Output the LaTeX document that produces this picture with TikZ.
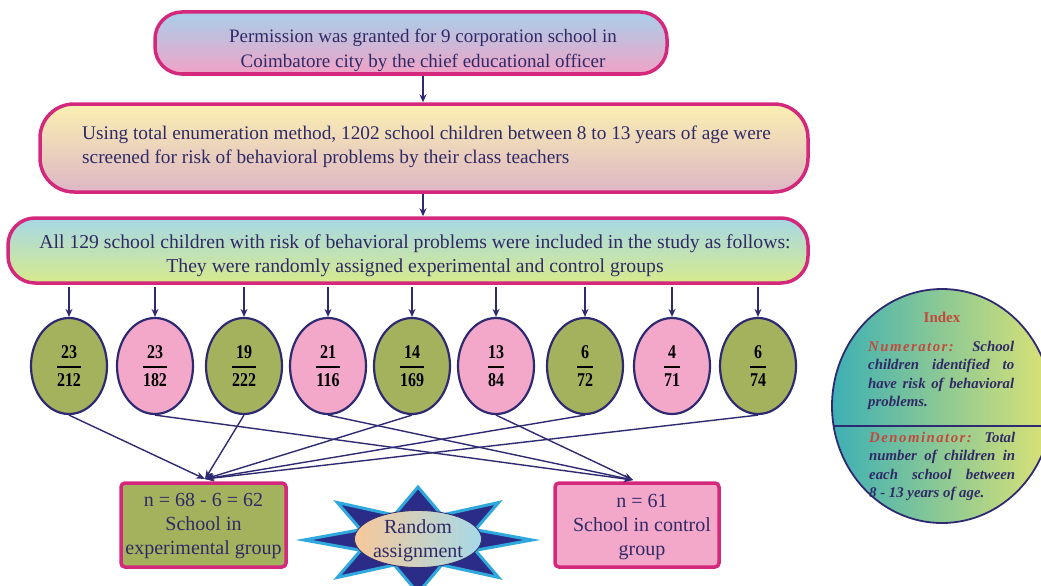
\documentclass[tikz,border=0pt]{standalone}
\usepackage{fontspec}
\setmainfont{Liberation Serif}
\usepackage{amsmath}
\usetikzlibrary{arrows.meta,shapes.geometric}
\definecolor{navy}{HTML}{2E2A72}
\definecolor{mag}{HTML}{D4287C}
\definecolor{olive}{HTML}{A4B25E}
\definecolor{pinkf}{HTML}{F3A7C9}
\definecolor{txt}{HTML}{2F2A66}
\definecolor{redt}{HTML}{C24A3C}
\definecolor{starblue}{HTML}{2B2C88}
\definecolor{starcyan}{HTML}{2FA9DD}
\definecolor{baT}{HTML}{A8CFEA}
\definecolor{baB}{HTML}{F0A2C6}
\definecolor{bbT}{HTML}{FBF0B2}
\definecolor{bbB}{HTML}{DDB6C6}
\definecolor{bcT}{HTML}{A6D8E6}
\definecolor{bcB}{HTML}{D8EA8C}
\definecolor{raL}{HTML}{F7C89A}
\definecolor{raR}{HTML}{A6D9E8}
\definecolor{ixL}{HTML}{3DB0B4}
\definecolor{ixR}{HTML}{DDE274}
\newcommand\fr[2]{\raisebox{-3pt}{$\genfrac{}{}{1.5pt}{0}{\textbf{\addfontfeature{FakeStretch=0.82}#1}}{\textbf{\addfontfeature{FakeStretch=0.82}#2}}$}}
\tikzset{
  flowbox/.style={draw=mag, line width=3.5pt, minimum width=#1, inner sep=0pt},
  arr/.style={draw=navy, line width=1.5pt, -{Stealth[length=8pt,width=7pt]}},
  link/.style={draw=navy, line width=1.4pt, -{Stealth[length=9pt,width=7pt]}},
  ell/.style={ellipse, draw=navy, line width=2.2pt, minimum width=76pt, minimum height=96pt, inner sep=0pt, text=black, font=\fontsize{19.5}{22}\selectfont},
  grpbox/.style={draw=mag, line width=3.5pt, rounded corners=4pt, minimum width=165pt, minimum height=84pt},
  bigtxt/.style={text=txt, inner sep=0pt},
  grptxt/.style={text=txt, font=\fontsize{20}{24}\selectfont, align=center, inner sep=0pt},
  idxtxt/.style={text=txt, font=\fontsize{14.8}{18.5}\selectfont\bfseries\itshape, text width=146pt, align=justify, inner sep=0pt},
}
\begin{document}
\begin{tikzpicture}[x=1pt,y=-1pt]
\useasboundingbox (0,0) rectangle (1041,586);
\clip (0,0) rectangle (1041,586);

% top boxes
\node[flowbox=512pt, minimum height=62pt, rounded corners=27pt, top color=baT, bottom color=baB] (b1) at (411,43) {};
\node[bigtxt, align=center, font=\fontsize{19}{25}\selectfont] (t1) at (423,50) {Permission was granted for 9 corporation school in\\Coimbatore city by the chief educational officer};

\node[flowbox=768pt, minimum height=88pt, rounded corners=34pt, top color=bbT, bottom color=bbB] (b2) at (424,148) {};
\node[bigtxt, align=left, anchor=west, font=\fontsize{19.3}{24}\selectfont] (t2) at (82,147) {Using total enumeration method, 1202 school children between 8 to 13 years of age were\\screened for risk of behavioral problems by their class teachers};

\node[flowbox=800pt, minimum height=65pt, rounded corners=27pt, top color=bcT, bottom color=bcB] (b3) at (408,250.5) {};
\node[bigtxt, align=center, font=\fontsize{19.7}{24}\selectfont] (t3) at (415,256) {All 129 school children with risk of behavioral problems were included in the study as follows:\\They were randomly assigned experimental and control groups};

\draw[arr] (b1.south -| t1) -- (b2.north -| t1);
\draw[arr] (b2.south -| t1) -- (b3.north -| t1);

% school ellipses
\node[ell, fill=olive] (e1) at (69,366) {\fr{23}{212}};
\node[ell, fill=pinkf] (e2) at (155,366) {\fr{23}{182}};
\node[ell, fill=olive] (e3) at (244,366) {\fr{19}{222}};
\node[ell, fill=pinkf] (e4) at (328,366) {\fr{21}{116}};
\node[ell, fill=olive] (e5) at (412,366) {\fr{14}{169}};
\node[ell, fill=pinkf] (e6) at (496,366) {\fr{13}{84}};
\node[ell, fill=olive] (e7) at (585,366) {\fr{6}{72}};
\node[ell, fill=pinkf] (e8) at (672,366) {\fr{4}{71}};
\node[ell, fill=olive] (e9) at (758,366) {\fr{6}{74}};
\foreach \i in {1,...,9} {
  \draw[arr] ([yshift=-2pt]e\i.north |- b3.south) -- (e\i.north);
}

% group boxes
\node[grpbox, fill=olive] (gx) at (203.5,525) {};
\node[grptxt] (gxt) at (203.5,526) {n = 68 - 6 = 62\\School in\\experimental group};
\node[grpbox, fill=pinkf, minimum width=164pt] (gc) at (637,525) {};
\node[grptxt] (gct) at (642,527) {n = 61\\School in control\\group};
\coordinate (ex) at (205,479);
\coordinate (cx) at (633,480);
\foreach \i in {1,3,5,7,9} { \draw[link] (e\i.south) -- (ex); }
\foreach \i in {2,4,6} { \draw[link] (e\i.south) -- (cx); }

% star
\path[fill=starblue, draw=starcyan, line width=3pt, line join=miter]
  plot[samples at={0,1,...,15}] ({418+(mod(\x,2)==0 ? 114 : 62)*cos(\x*22.5)}, {540+(mod(\x,2)==0 ? 53 : 27)*sin(\x*22.5)}) -- cycle;
\node[ellipse, draw=navy, line width=0.8pt, minimum width=127pt, minimum height=57pt, inner sep=0pt, left color=raL, right color=raR] (ra) at (418,539) {};
\node[grptxt] (rat) at (418,541) {Random\\assignment};

% index ellipse
\path[left color=ixL, right color=ixR, draw=navy, line width=1.8pt] (942,406) ellipse (110 and 117);
\begin{scope}
\clip (942,406) ellipse (110 and 117);
\draw[navy, line width=1.8pt] (820,426) -- (1060,426);
\end{scope}
\node[text=redt, font=\fontsize{15}{18}\selectfont\bfseries, inner sep=0pt] (ih) at (942,317) {Index};
\node[idxtxt, anchor=north west] (in) at (868,341) {\textcolor{redt}{\addfontfeature{LetterSpace=10}Numerator:} School\linebreak children identified to\linebreak have risk of behavioral\linebreak problems.};
\node[idxtxt, anchor=north west] (id) at (869,432) {\textcolor{redt}{\addfontfeature{LetterSpace=10}Denominator:} Total\linebreak number of children in\linebreak each school between\linebreak 8 - 13 years of age.};
\end{tikzpicture}
\end{document}
